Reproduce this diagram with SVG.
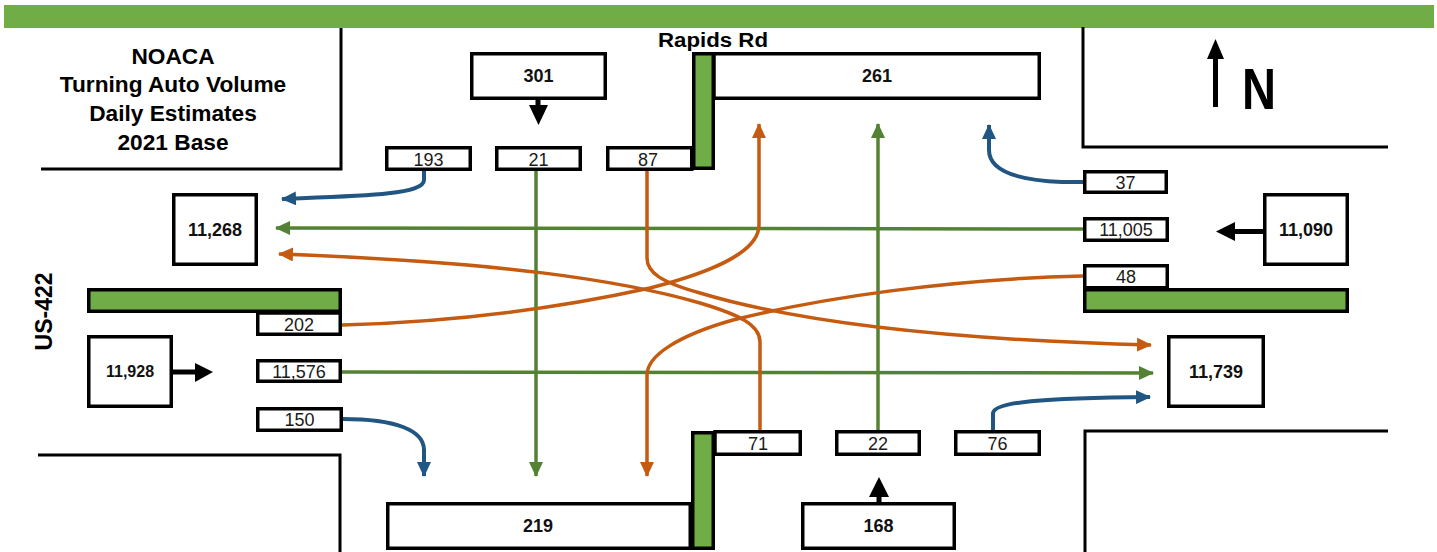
<svg xmlns="http://www.w3.org/2000/svg" width="1437" height="552" viewBox="0 0 1437 552">
<defs>
<style>
.box{fill:#fff;stroke:#000;stroke-width:3.5}
.bar{fill:#70AD47;stroke:#000;stroke-width:3.5}
.road{fill:none;stroke:#000;stroke-width:3}
.sm{font-family:"Liberation Sans",Arial,sans-serif;font-size:18px;fill:#1a1a1a;text-anchor:middle}
.bg{font-family:"Liberation Sans",Arial,sans-serif;font-size:18px;font-weight:bold;fill:#111;text-anchor:middle}
.ttl{font-family:"Liberation Sans",Arial,sans-serif;font-size:22.7px;font-weight:bold;fill:#000;text-anchor:middle}
.b{fill:none;stroke:#215582;stroke-width:4}
.g{fill:none;stroke:#548235;stroke-width:3.5}
.o{fill:none;stroke:#C55A11;stroke-width:3.5}
.blk{fill:#000}
</style>
<marker id="ab" markerUnits="userSpaceOnUse" markerWidth="15" markerHeight="14" refX="14" refY="7" orient="auto" viewBox="0 0 15 14"><path d="M0,0 L15,7 L0,14 z" fill="#215582"/></marker>
<marker id="ag" markerUnits="userSpaceOnUse" markerWidth="15" markerHeight="14" refX="14" refY="7" orient="auto" viewBox="0 0 15 14"><path d="M0,0 L15,7 L0,14 z" fill="#548235"/></marker>
<marker id="ao" markerUnits="userSpaceOnUse" markerWidth="15" markerHeight="14" refX="14" refY="7" orient="auto" viewBox="0 0 15 14"><path d="M0,0 L15,7 L0,14 z" fill="#C55A11"/></marker>
</defs>
<rect width="1437" height="552" fill="#fff"/>
<rect x="4" y="5" width="1430" height="23" fill="#70AD47"/>

<g id="roads">
<path class="road" d="M41,169 H341 V28"/>
<path class="road" d="M1083,27 V147 H1388"/>
<path class="road" d="M38,455 H340 V552"/>
<path class="road" d="M1085,552 V431 H1388"/>
</g>

<g id="title">
<text class="ttl" x="173" y="64">NOACA</text>
<text class="ttl" x="173" y="92">Turning Auto Volume</text>
<text class="ttl" x="173" y="121">Daily Estimates</text>
<text class="ttl" x="173" y="150">2021 Base</text>
</g>
<g id="label-rapids"><text class="ttl" x="713" y="47" style="font-size:20px" textLength="110" lengthAdjust="spacingAndGlyphs">Rapids Rd</text></g>
<g id="label-us422"><text class="ttl" transform="translate(52,311.5) rotate(-90)" x="0" y="0" style="font-size:23px">US-422</text></g>
<g id="north">
<rect x="1213" y="57" width="5" height="50" class="blk"/>
<path d="M1207,59 L1224,59 L1215.5,39 z" class="blk"/>
<text x="1242" y="109" style="font-family:'Liberation Sans',Arial,sans-serif;font-size:58px;font-weight:bold" textLength="34" lengthAdjust="spacingAndGlyphs">N</text>
</g>

<g id="connectors">
<path class="b" d="M424,171 L424,180 C424,195 360,196 282,199" marker-end="url(#ab)"/>
<path class="b" d="M1083,182 L1062,182 C1010,180 989,168 989,150 L989,125" marker-end="url(#ab)"/>
<path class="b" d="M343,419 C395,419 424,430 424,450 L424,476" marker-end="url(#ab)"/>
<path class="b" d="M993,430 L993,413 C995,402 1040,398 1150,397" marker-end="url(#ab)"/>
<path class="g" d="M536,171 L536,476" marker-end="url(#ag)"/>
<path class="g" d="M1083,229 L276,228" marker-end="url(#ag)"/>
<path class="g" d="M342,372 L1153,373" marker-end="url(#ag)"/>
<path class="g" d="M878,430 L878,124" marker-end="url(#ag)"/>
<path class="o" d="M647,171 V258 C647,272 660,282 700,293 C800,323 950,340 1151,345" marker-end="url(#ao)"/>
<path class="o" d="M760,430 V342 C760,325 740,315 700,303 C620,280 500,262 279,254" marker-end="url(#ao)"/>
<path class="o" d="M342,325 C450,322 550,310 650,288 C720,270 759,250 759,225 L759,124" marker-end="url(#ao)"/>
<path class="o" d="M1083,276 C950,279 820,298 733,320 C680,335 647,355 647,375 L647,476" marker-end="url(#ao)"/>
</g>

<g id="n301"><rect class="box" x="471.75" y="53.75" width="133.5" height="44.5"/><text class="bg" x="538.5" y="82">301</text>
<rect x="535.5" y="99" width="5" height="7" class="blk"/><path d="M529,105 L548,105 L538.5,125 z" class="blk"/></g>
<g id="n261"><rect class="box" x="714" y="53.75" width="325.25" height="44.5"/><text class="bg" x="877" y="82">261</text></g>
<g id="bar-top"><rect class="bar" x="693.75" y="53.75" width="19.5" height="114.5"/></g>
<g id="n193"><rect class="box" x="386.75" y="147.75" width="83.5" height="21.5"/><text class="sm" x="428.5" y="165.5">193</text></g>
<g id="n21"><rect class="box" x="496.75" y="147.75" width="83.5" height="21.5"/><text class="sm" x="538.5" y="165.5">21</text></g>
<g id="n87"><rect class="box" x="607.75" y="147.75" width="84" height="21.5"/><text class="sm" x="648" y="165.5">87</text></g>

<g id="n37"><rect class="box" x="1084.75" y="171.75" width="81.5" height="20.5"/><text class="sm" x="1125.5" y="188.5">37</text></g>
<g id="n11005"><rect class="box" x="1084.75" y="218.75" width="82.5" height="21.5"/><text class="sm" x="1126" y="236">11,005</text></g>
<g id="n48"><rect class="box" x="1084.75" y="265.75" width="82.5" height="22"/><text class="sm" x="1126" y="283">48</text></g>
<g id="bar-right"><rect class="bar" x="1084.75" y="289.75" width="262.5" height="21.5"/></g>
<g id="n11090"><rect class="box" x="1264.75" y="194.75" width="82.5" height="69.5"/><text class="bg" x="1306" y="236">11,090</text>
<rect x="1233" y="229" width="30" height="5" class="blk"/><path d="M1235,222 L1235,241 L1216,231.5 z" class="blk"/></g>
<g id="n11739"><rect class="box" x="1168.75" y="336.75" width="94.5" height="69.5"/><text class="bg" x="1216" y="378">11,739</text></g>

<g id="n11268"><rect class="box" x="173.75" y="194.75" width="82.5" height="69.5"/><text class="bg" x="215" y="236">11,268</text></g>
<g id="bar-left"><rect class="bar" x="88.75" y="289.75" width="251.5" height="21.5"/></g>
<g id="n202"><rect class="box" x="257.75" y="313" width="82.5" height="21.25"/><text class="sm" x="299" y="331">202</text></g>
<g id="n11928"><rect class="box" x="88.75" y="336.75" width="82.5" height="69.5"/><text class="bg" x="130" y="377" style="font-size:16px">11,928</text>
<rect x="172" y="369.5" width="25" height="5" class="blk"/><path d="M195,363 L195,382 L213,372 z" class="blk"/></g>
<g id="n11576"><rect class="box" x="257.75" y="360.75" width="82.5" height="20.5"/><text class="sm" x="299" y="378">11,576</text></g>
<g id="n150"><rect class="box" x="257.75" y="408.75" width="83.5" height="21.5"/><text class="sm" x="299.5" y="426">150</text></g>

<g id="n219"><rect class="box" x="387.75" y="503.75" width="302.5" height="44.5"/><text class="bg" x="538" y="532">219</text></g>
<g id="bar-bottom"><rect class="bar" x="692.75" y="432.75" width="20.5" height="115.5"/></g>
<g id="n71"><rect class="box" x="715" y="431.75" width="85.25" height="22.5"/><text class="sm" x="758" y="450">71</text></g>
<g id="n22"><rect class="box" x="836.75" y="431.75" width="82.5" height="22.5"/><text class="sm" x="878" y="450">22</text></g>
<g id="n76"><rect class="box" x="955.75" y="431.75" width="83.5" height="22.5"/><text class="sm" x="997.5" y="450">76</text></g>
<g id="n168"><rect class="box" x="802.75" y="503.75" width="151.5" height="44.5"/><text class="bg" x="878.5" y="532">168</text>
<rect x="876.5" y="495" width="5" height="8" class="blk"/><path d="M869,497 L889,497 L879,477 z" class="blk"/></g>
</svg>
